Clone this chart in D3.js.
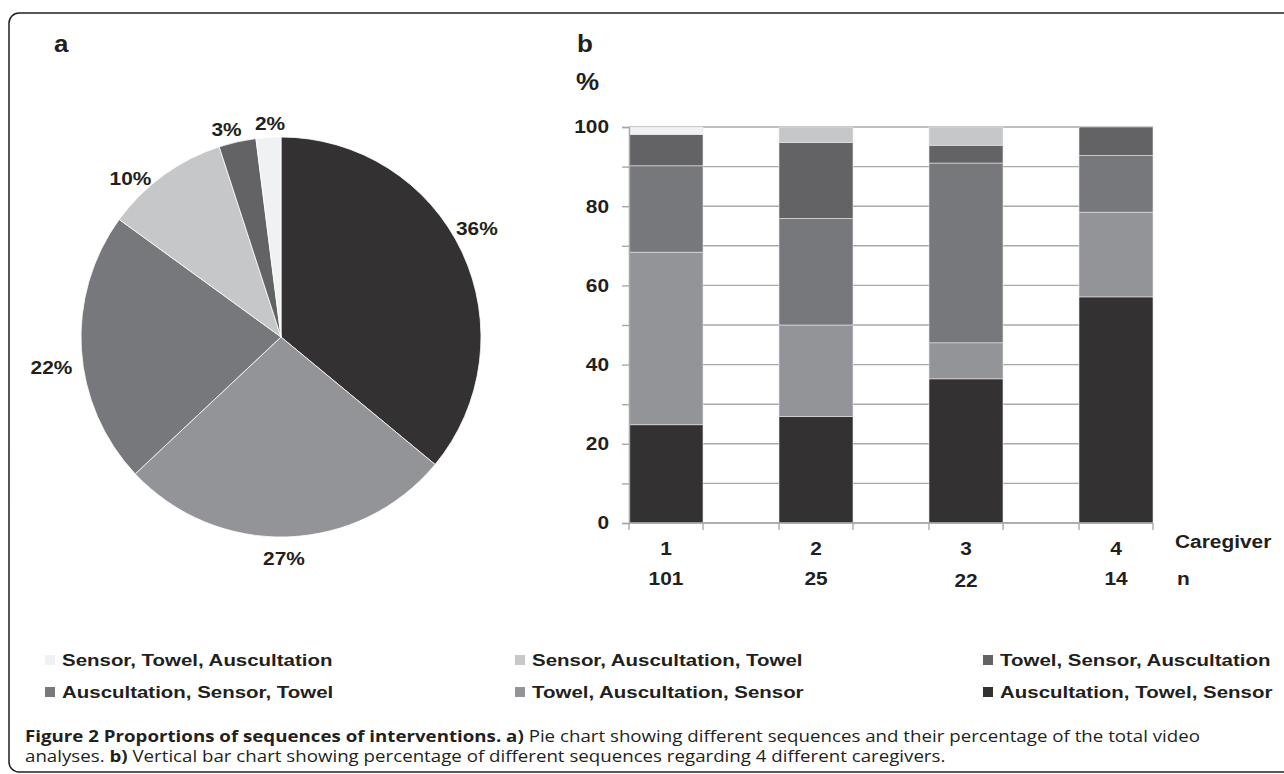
<!DOCTYPE html>
<html>
<head>
<meta charset="utf-8">
<script src="https://cdn.jsdelivr.net/npm/d3@7"></script>
<style>
	body { margin: 0; background: #fff; }
	svg { display: block; }
	text { font-family: 'Liberation Sans', Arial, sans-serif; fill: #231f20; font-weight: bold; }
	.caption text { font-family: 'Open Sans', sans-serif; font-weight: normal; }
</style>
</head>
<body>
<svg width="1284" height="774"></svg>
<script>
// sequences and their grey shades
const sequences = ['Sensor, Towel, Auscultation', 'Sensor, Auscultation, Towel', 'Towel, Sensor, Auscultation',
	'Auscultation, Sensor, Towel', 'Towel, Auscultation, Sensor', 'Auscultation, Towel, Sensor']
const shades = ['#f0f1f3', '#c6c7c9', '#636365', '#77787c', '#939497', '#333132']

// a) pie, clockwise from 12 o'clock
const pieOrder = ['Auscultation, Towel, Sensor', 'Towel, Auscultation, Sensor', 'Auscultation, Sensor, Towel',
	'Sensor, Auscultation, Towel', 'Towel, Sensor, Auscultation', 'Sensor, Towel, Auscultation']
const pieValues = [36, 27, 22, 10, 3, 2]

// b) stacked bars, % per caregiver
const caregivers = ['1', '2', '3', '4']
const nVideos = ['101', '25', '22', '14']
const stackOrder = ['Auscultation, Towel, Sensor', 'Towel, Auscultation, Sensor', 'Auscultation, Sensor, Towel',
	'Towel, Sensor, Auscultation', 'Sensor, Auscultation, Towel', 'Sensor, Towel, Auscultation']
const ausTowSen = [24.8, 26.9, 36.4, 57.1]
const towAusSen = [43.6, 23.1, 9.1, 21.4]
const ausSenTow = [21.8, 26.9, 45.4, 14.3]
const towSenAus = [7.9, 19.2, 4.5, 7.2]
const senAusTow = [0, 3.9, 4.6, 0]
const senTowAus = [1.9, 0, 0, 0]
const yTicks = [0, 10, 20, 30, 40, 50, 60, 70, 80, 90, 100]

const color = d3.scaleOrdinal().domain(sequences).range(shades)
const svg = d3.select('svg')

// the figure is a bit wider than tall: stretch the type horizontally
const SX = 1.13
const put = (g, x, y, str, size, anchor, sx) => g.append('text')
	.attr('transform', `translate(${[x, y]}) scale(${sx || SX},1)`)
	.attr('text-anchor', anchor || 'start')
	.style('font-size', size + 'px')
	.text(str)

// frame
svg.append('rect')
	.attr('x', 9).attr('y', 13).attr('width', 1320).attr('height', 759).attr('rx', 10)
	.attr('fill', 'none').attr('stroke', '#231f20').attr('stroke-width', 1.5)

put(svg, 54, 52, 'a', 23)
put(svg, 577, 52, 'b', 23)
put(svg, 576, 90, '%', 23)

// ---- pie
const pieData = d3.pie().sort(null).value(d => d.v)(pieOrder.map((k, i) => ({ k: k, v: pieValues[i] })))
const R = 200
const arc = d3.arc().innerRadius(0).outerRadius(R)
const labelArc = d3.arc().innerRadius(222).outerRadius(222)
// excel "best fit" nudges of the labels
const nudge = [[-5, -14], [-4, 0], [-8, 17], [-20, 21], [-6, 9], [3, 8]]
const pie = svg.append('g').attr('transform', `translate(${[281, 337]})`)

pie.selectAll('path').data(pieData).join('path')
	.attr('d', arc)
	.attr('fill', d => color(d.data.k))
	.attr('stroke', '#fff').attr('stroke-width', .8)

pieData.forEach((d, i) => {
	const c = labelArc.centroid(d)
	put(pie, c[0] + nudge[i][0], c[1] + nudge[i][1] + 6.5, d.data.v + '%', 18.5, 'middle')
})

// ---- stacked bars
const rows = caregivers.map((c, i) => ({
	cg: c,
	'Auscultation, Towel, Sensor': ausTowSen[i],
	'Towel, Auscultation, Sensor': towAusSen[i],
	'Auscultation, Sensor, Towel': ausSenTow[i],
	'Towel, Sensor, Auscultation': towSenAus[i],
	'Sensor, Auscultation, Towel': senAusTow[i],
	'Sensor, Towel, Auscultation': senTowAus[i]
}))
const series = d3.stack().keys(stackOrder)(rows)

const x = d3.scaleBand().domain(caregivers).range([629, 1153]).paddingInner(.5067).paddingOuter(0)
const y = d3.scaleLinear().domain([0, 100]).range([523, 127])
const bars = svg.append('g')

bars.selectAll('line.grid').data(yTicks).join('line')
	.attr('class', 'grid')
	.attr('x1', 629).attr('x2', 1153)
	.attr('y1', d => y(d)).attr('y2', d => y(d))
	.attr('stroke', '#a7a9ab').attr('stroke-width', 1.4)

bars.selectAll('g.serie').data(series).join('g')
	.attr('class', 'serie')
	.attr('fill', d => color(d.key))
	.selectAll('rect').data(d => d.filter(s => s[1] - s[0] > 0)).join('rect')
	.attr('x', d => x(d.data.cg))
	.attr('width', x.bandwidth())
	.attr('y', d => y(d[1]))
	.attr('height', d => y(d[0]) - y(d[1]))
	.attr('stroke', '#e6e7e8').attr('stroke-width', .6)

// y axis
const yAxis = bars.append('g')
	.attr('transform', 'translate(629,0)')
	.call(d3.axisLeft(y).tickValues(yTicks).tickFormat(d => d % 20 === 0 ? d : '').tickSize(7).tickPadding(13))
yAxis.select('.domain').attr('stroke', '#a7a9ab').attr('stroke-width', 1.4)
yAxis.selectAll('.tick line').attr('stroke', '#a7a9ab').attr('stroke-width', 1.4)
yAxis.selectAll('.tick text')
	.attr('x', -20 / SX).attr('transform', `scale(${SX},1)`)
	.style('font-size', '18.5px').attr('fill', '#231f20')

// x axis: baseline and ticks at bar edges
bars.append('line')
	.attr('x1', 629).attr('x2', 1153).attr('y1', y(0)).attr('y2', y(0))
	.attr('stroke', '#a7a9ab').attr('stroke-width', 1.4)
const edges = caregivers.flatMap(c => [x(c), x(c) + x.bandwidth()])
bars.selectAll('line.xtick').data(edges).join('line')
	.attr('class', 'xtick')
	.attr('x1', d => d).attr('x2', d => d)
	.attr('y1', y(0)).attr('y2', y(0) + 7)
	.attr('stroke', '#a7a9ab').attr('stroke-width', 1.4)

caregivers.forEach((c, i) => {
	const cx = x(c) + x.bandwidth() / 2
	put(bars, cx, 555, c, 18.5, 'middle')
	put(bars, cx, nVideos[i] === '22' ? 587 : 585, nVideos[i], 18.5, 'middle')
})
put(bars, 1175, 548, 'Caregiver', 18.5)
put(bars, 1177, 585, 'n', 18.5)

// ---- legend
const legendOrder = ['Sensor, Towel, Auscultation', 'Sensor, Auscultation, Towel', 'Towel, Sensor, Auscultation',
	'Auscultation, Sensor, Towel', 'Towel, Auscultation, Sensor', 'Auscultation, Towel, Sensor']
const colX = [45, 515, 983]
legendOrder.forEach((d, i) => {
	const g = svg.append('g').attr('transform', `translate(${[colX[i % 3], i < 3 ? 660 : 692]})`)
	g.append('rect').attr('x', 0).attr('y', -5).attr('width', 10).attr('height', 10).attr('fill', color(d))
	put(g, 17, 6, d, 16.5, 'start', 1.24)
})

// ---- caption: fit the last line, then justify the first one
const cap = svg.append('g').attr('class', 'caption').style('font-size', '16.5px')
const l1 = cap.append('text')
l1.append('tspan').style('font-weight', 'bold').text('Figure 2 Proportions of sequences of interventions. a)')
l1.append('tspan').text(' Pie chart showing different sequences and their percentage of the total video')
const l2 = cap.append('text')
l2.append('tspan').text('analyses. ')
l2.append('tspan').style('font-weight', 'bold').text('b)')
l2.append('tspan').text(' Vertical bar chart showing percentage of different sequences regarding 4 different caregivers.')

const capX = 25
const csx = (946 - capX) / l2.node().getComputedTextLength()
l1.attr('transform', `translate(${[capX, 742]}) scale(${csx},1)`)
l2.attr('transform', `translate(${[capX, 762]}) scale(${csx},1)`)
const spaces = l1.text().split(' ').length - 1
const ws = ((1200 - capX) / csx - l1.node().getComputedTextLength()) / spaces
l1.style('word-spacing', Math.max(0, ws) + 'px')
</script>
</body>
</html>
